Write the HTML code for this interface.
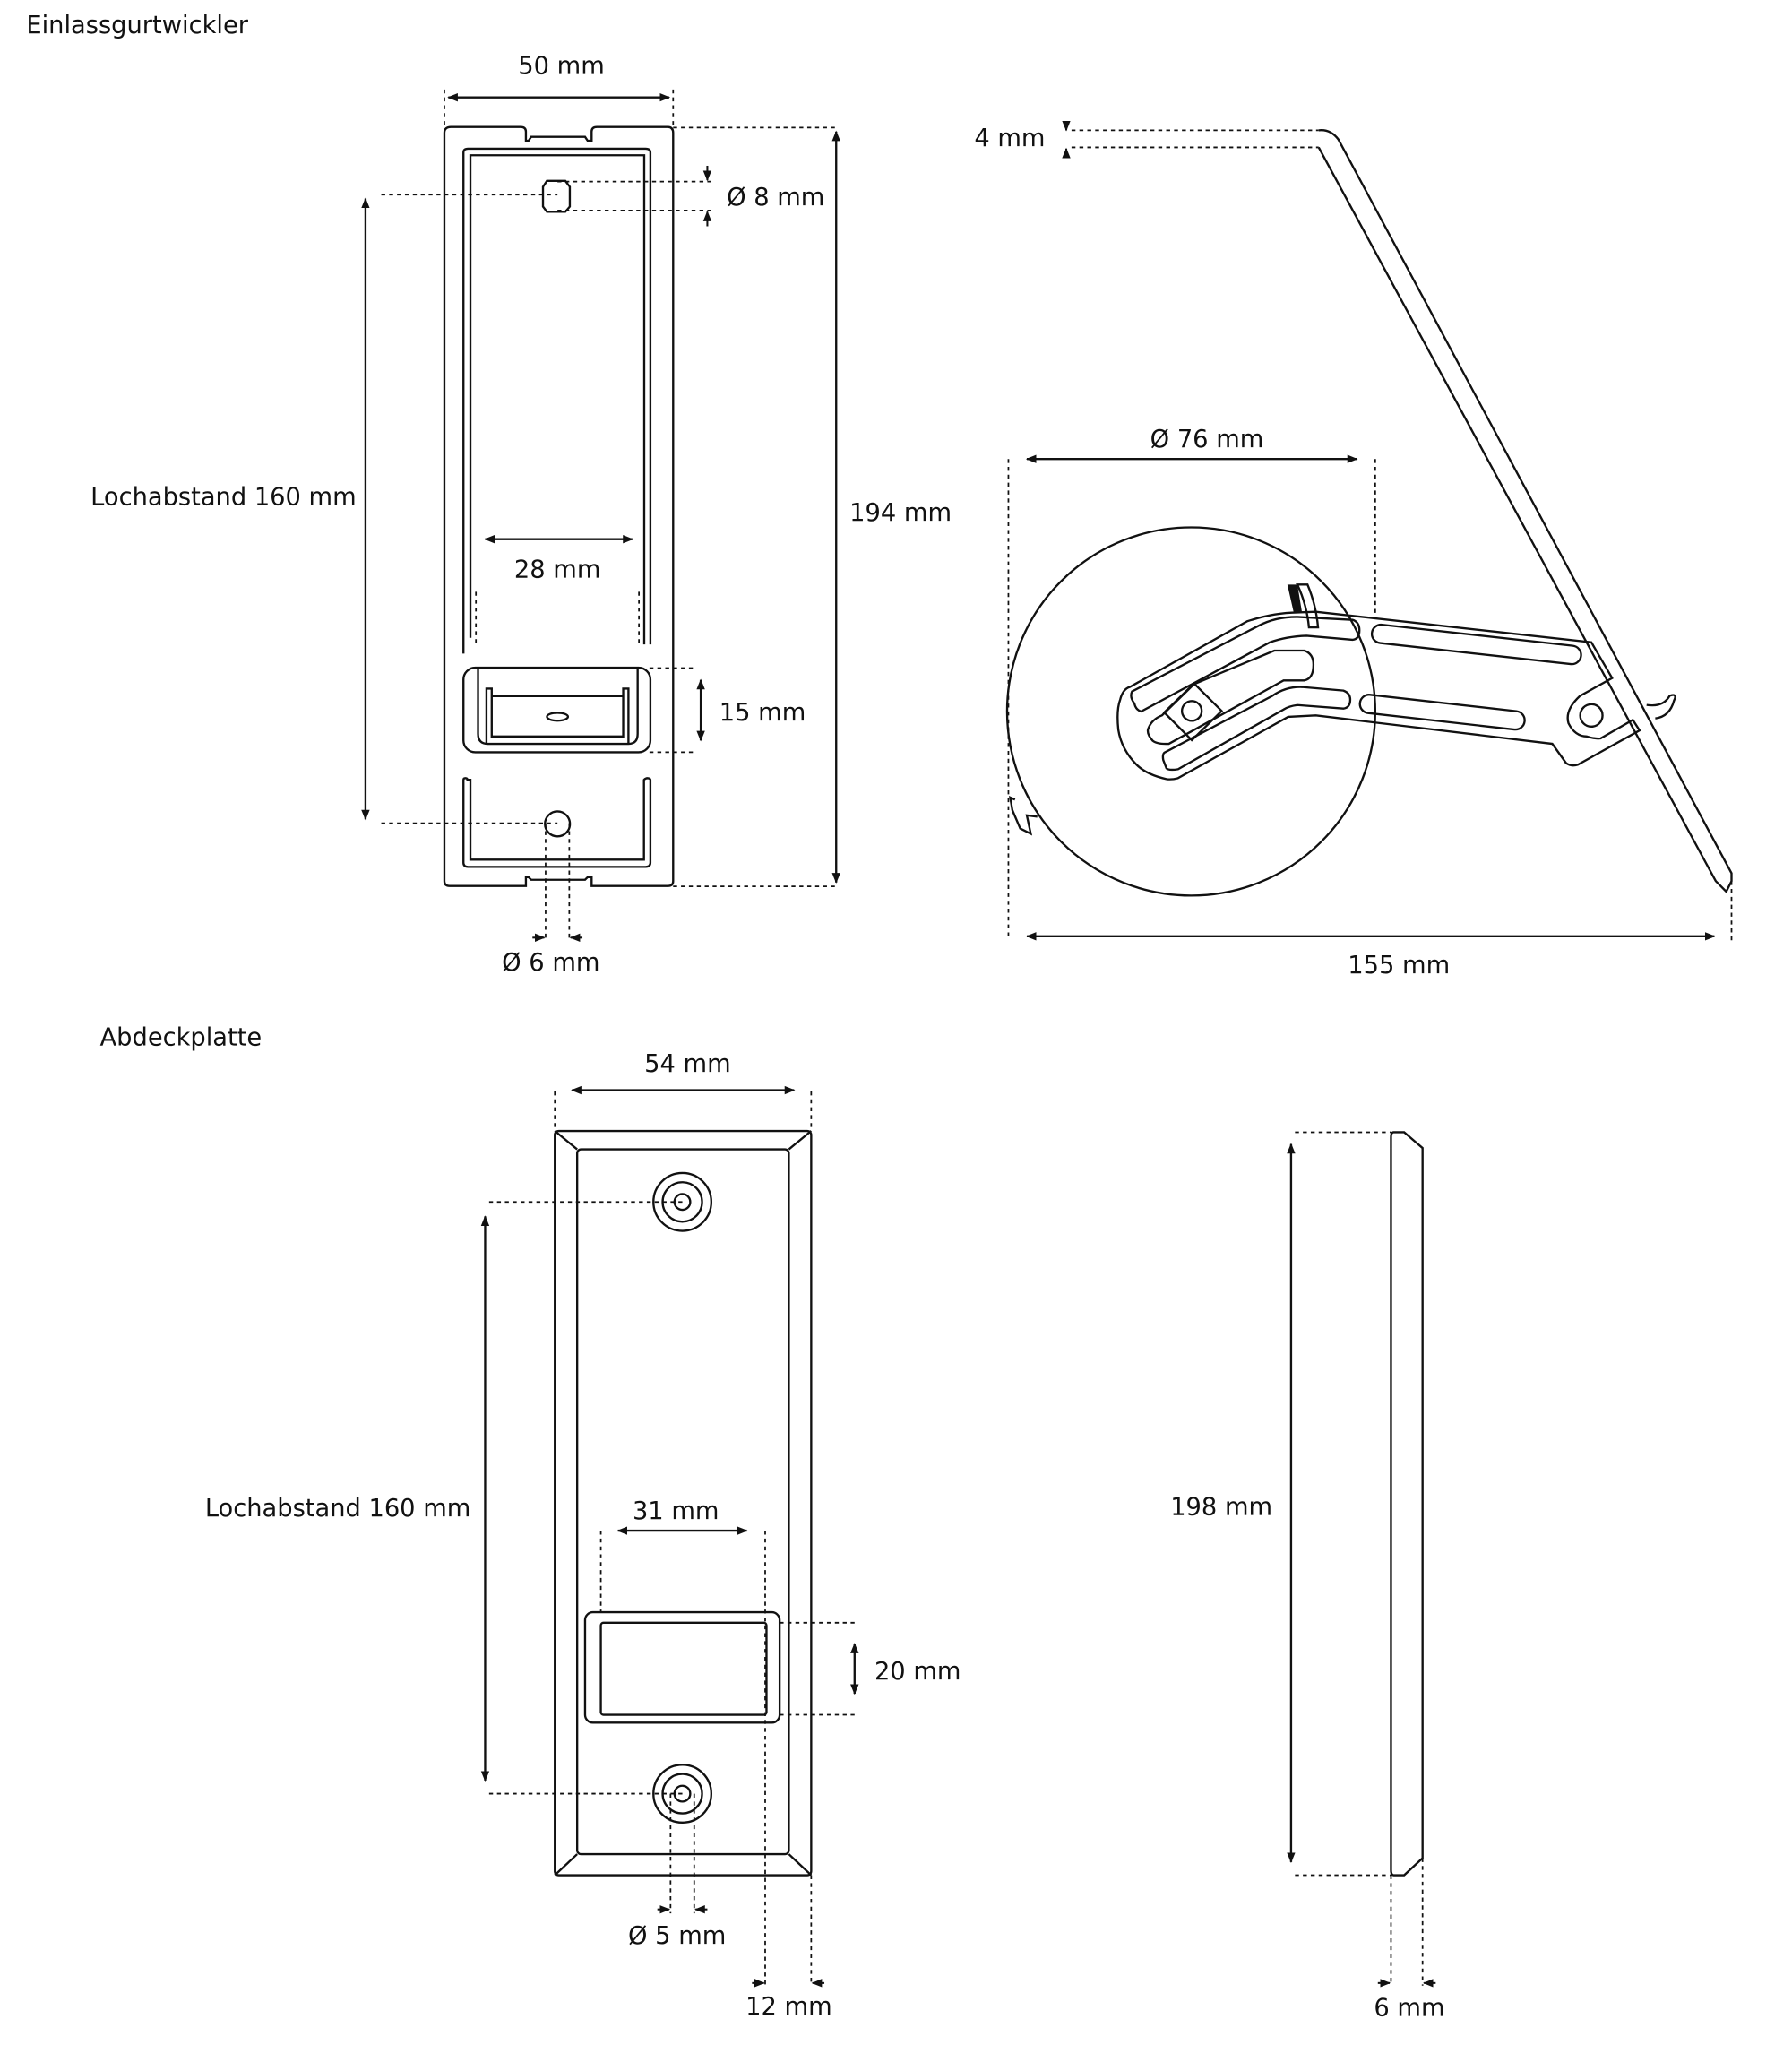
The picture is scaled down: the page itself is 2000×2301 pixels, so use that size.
<!DOCTYPE html>
<html><head><meta charset="utf-8"><style>
html,body{margin:0;padding:0;background:#fff;}
svg{display:block;}
text{font-family:"DejaVu Sans","Liberation Sans",sans-serif;font-size:18.6px;fill:#111;}
.l{fill:none;stroke:#111;stroke-width:1.6;}
.d{fill:none;stroke:#111;stroke-width:1.2;stroke-dasharray:3 3;}
.a{fill:none;stroke:#111;stroke-width:1.6;marker-start:url(#ar);marker-end:url(#ar);}
</style></head><body>
<svg width="2000" height="2301" viewBox="0 0 1363 1568" xmlns="http://www.w3.org/2000/svg">
<defs>
<marker id="ar" viewBox="0 0 10 10" refX="9" refY="5" markerWidth="8" markerHeight="8" orient="auto-start-reverse" markerUnits="userSpaceOnUse"><path d="M0,1 L10,5 L0,9 Z" fill="#111"/></marker>
<marker id="ah" viewBox="0 0 10 10" refX="9" refY="5" markerWidth="8" markerHeight="8" orient="auto" markerUnits="userSpaceOnUse"><path d="M0,1 L10,5 L0,9 Z" fill="#111"/></marker>
</defs>

<text x="20" y="25">Einlassgurtwickler</text>

<!-- Front view 1 -->
<path class="l" d="M343 96.5 L396 96.5 Q400 96.5 400 100 L400 107 L402 107 L404 104 L445 104 L447 107 L450 107 L450 100 Q450 96.5 454 96.5 L508 96.5 Q512 96.5 512 101 L512 670 Q512 673.7 508 673.7 L450 673.7 L450 667 L447 667 L445 669 L404 669 L402 667 L400 667 L400 673.7 L342 673.7 Q338 673.7 338 670 L338 101 Q338 96.5 343 96.5 Z"/>
<path class="l" d="M352.5 497 L352.5 116 Q352.5 113 356 113 L491 113 Q494.7 113 494.7 116 L494.7 490"/>
<path class="l" d="M357.8 485 L357.8 118 L490 118 L490 490"/>
<path class="l" d="M352.5 593 Q352.5 591.7 354 591.7 Q355.5 591.7 355.5 593 L357.8 593 L357.8 653.7 L489.8 653.7 L489.8 593 Q491 591.7 492.5 591.7 Q494.7 592 494.7 593 L494.7 656 Q494.7 659.2 491 659.2 L356 659.2 Q352.5 659.2 352.5 656 Z"/>
<path class="l" d="M416 137.5 L430 137.5 L433.4 142 L433.4 157 L430 161 L416 161 L413 157 L413 142 Z"/>
<circle class="l" cx="424" cy="626.5" r="9.5"/>
<rect class="l" x="352.5" y="507.7" width="142.2" height="64.3" rx="9"/>
<path class="l" d="M363.6 507.7 L363.6 558 Q363.6 565.6 371 565.6 L478 565.6 Q485 565.6 485 558 L485 507.7"/>
<path class="l" d="M370 565 L370 523.6 L374 523.6 L374 560 L474 560 L474 523.6 L478 523.6 L478 565"/>
<line class="l" x1="374" y1="529.3" x2="474" y2="529.3"/>
<ellipse class="l" cx="424" cy="545" rx="8" ry="3"/>

<text x="427" y="56" text-anchor="middle">50 mm</text>
<line class="a" x1="341" y1="74" x2="509" y2="74"/>
<line class="d" x1="338" y1="68" x2="338" y2="97"/><line class="d" x1="512" y1="68" x2="512" y2="97"/>
<line class="a" x1="636" y1="100" x2="636" y2="671"/>
<line class="d" x1="512" y1="97" x2="636" y2="97"/><line class="d" x1="512" y1="674" x2="636" y2="674"/>
<text x="685" y="396" text-anchor="middle">194 mm</text>
<line class="d" x1="424" y1="138" x2="542" y2="138"/><line class="d" x1="424" y1="160" x2="542" y2="160"/>
<line x1="538" y1="126" x2="538" y2="137" stroke="#111" stroke-width="1.4" marker-end="url(#ah)"/>
<line x1="538" y1="172" x2="538" y2="161" stroke="#111" stroke-width="1.4" marker-end="url(#ah)"/>
<text x="590" y="156" text-anchor="middle">Ø 8 mm</text>
<line class="a" x1="278" y1="151" x2="278" y2="623"/>
<line class="d" x1="290" y1="148" x2="424" y2="148"/><line class="d" x1="290" y1="626" x2="424" y2="626"/>
<text x="170" y="384" text-anchor="middle">Lochabstand 160 mm</text>
<line class="a" x1="369" y1="410" x2="481" y2="410"/>
<line class="d" x1="362" y1="450" x2="362" y2="490"/><line class="d" x1="486" y1="450" x2="486" y2="490"/>
<text x="424" y="439" text-anchor="middle">28 mm</text>
<line class="d" x1="494" y1="508" x2="528" y2="508"/><line class="d" x1="494" y1="572" x2="528" y2="572"/>
<line class="a" x1="533" y1="517" x2="533" y2="563"/>
<text x="580" y="548" text-anchor="middle">15 mm</text>
<line class="d" x1="415" y1="626" x2="415" y2="715"/><line class="d" x1="433" y1="626" x2="433" y2="715"/>
<line x1="405" y1="713" x2="414" y2="713" stroke="#111" stroke-width="1.4" marker-end="url(#ah)"/>
<line x1="443" y1="713" x2="434" y2="713" stroke="#111" stroke-width="1.4" marker-end="url(#ah)"/>
<text x="419" y="738" text-anchor="middle">Ø 6 mm</text>

<!-- Side view 1 -->
<line class="d" x1="815" y1="99" x2="1003" y2="99"/><line class="d" x1="815" y1="112" x2="1003" y2="112"/>
<line x1="811" y1="92" x2="811" y2="99" stroke="#111" stroke-width="1.4" marker-end="url(#ah)"/>
<line x1="811" y1="120" x2="811" y2="113" stroke="#111" stroke-width="1.4" marker-end="url(#ah)"/>
<text x="768" y="111" text-anchor="middle">4 mm</text>
<circle class="l" cx="906" cy="541" r="140" fill="#fff"/>
<path class="l" fill="#fff" d="M772 608 L768.4 606.4 L770 616 L776 630 L784 634 L781 620 L789 621"/>
<!-- arm -->
<path class="l" fill="#fff" d="M948.4 472.5 Q968 466 986.8 465.7 L1000.8 465.2 L1210.4 488.4 L1226.2 515.6 L1201.7 529.2 Q1190 540 1193 550 Q1198 560 1207 560 Q1213 562 1217.4 561.5 L1241.9 547.4 L1247.1 555.4 L1200 581.5 Q1195 583 1191.2 580.3 L1180.7 565.6 L1000.8 544 L979.8 545.1 L896 591.7 Q891 593 887.2 592.4 Q872 589 864.5 581.5 Q853 570 850.6 555 Q849 540 852 532 Q854 524 859.3 522.4 Z"/>
<path class="l" d="M862.8 534.9 Q859 530 861 525.8 L957.1 475.9 Q970 469 986.8 469.1 L1028.7 471.3 Q1034 473 1034 479.3 Q1034 486 1028.7 486.5 L993.8 483.4 Q978 484 965.9 488.4 L868 541 Q864 540 862.8 534.9 Z"/>
<path class="l" d="M908.2 520.2 L969.3 494.7 L992 494.7 Q999 497 999 505.4 Q999 516 992 517.4 L976.3 517.4 L889 565.6 Q880 566 876.8 563.3 Q872 558 873.3 554.2 Q876 547 883.8 544 Z"/>
<path class="l" d="M884.8 578 Q884 574 885.5 572.4 L967.6 529.2 Q978 522 990.3 522.4 L1021.8 525.1 Q1027 527 1027 532 Q1027 538 1021.8 538.8 L986.8 536.1 Q980 537 976.3 539.5 L896 584.9 Q889 586 887.2 584.2 Z"/>
<rect class="l" x="1043" y="483" width="160" height="14" rx="7" transform="rotate(6.3 1123 490)"/>
<rect class="l" x="1034" y="534.5" width="126" height="14" rx="7" transform="rotate(6.4 1097 541.5)"/>
<path class="l" fill="#fff" d="M908.2 519.7 L929.2 540.6 L906.5 562.8 L885.5 541.7 Z"/>
<circle class="l" cx="906.5" cy="540.6" r="7.5"/>
<circle class="l" cx="1210.4" cy="544" r="8.5"/>
<path d="M979.2 444.5 L986.8 444.5 L990.3 465.7 L984 465.7 Z" fill="#111"/>
<path class="l" fill="#fff" d="M986.8 444.5 L994.5 444.5 Q1001 460 1002.5 477 L995.6 477 Q994 460 986.8 444.5 Z"/>
<!-- plate -->
<path class="l" fill="none" d="M1003 112 L1305 670 L1313 678 L1317 670 L1317 664 L1018 106 Q1012 98 1003 99"/>
<path class="l" d="M1252.4 536 Q1265 538 1270 529 Q1276 527 1273.3 532.6 Q1270 545 1259 546.3"/>
<line class="a" x1="781" y1="349" x2="1032" y2="349"/>
<line class="d" x1="767" y1="349" x2="767" y2="715"/><line class="d" x1="1046" y1="349" x2="1046" y2="470"/>
<text x="918" y="340" text-anchor="middle">Ø 76 mm</text>
<line class="a" x1="781" y1="712" x2="1304" y2="712"/>
<line class="d" x1="1317" y1="670" x2="1317" y2="715"/>
<text x="1064" y="740" text-anchor="middle">155 mm</text>

<!-- Abdeckplatte -->
<text x="76" y="795">Abdeckplatte</text>
<rect class="l" x="422" y="860" width="195" height="566" rx="3"/>
<rect class="l" x="439" y="874" width="161" height="536" rx="3"/>
<line class="l" x1="422" y1="860" x2="439" y2="874"/><line class="l" x1="617" y1="860" x2="600" y2="874"/>
<line class="l" x1="422" y1="1426" x2="439" y2="1410"/><line class="l" x1="617" y1="1426" x2="600" y2="1410"/>
<circle class="l" cx="519" cy="914" r="22"/><circle class="l" cx="519" cy="914" r="15"/><circle class="l" cx="519" cy="914" r="6"/>
<circle class="l" cx="519" cy="1364" r="22"/><circle class="l" cx="519" cy="1364" r="15"/><circle class="l" cx="519" cy="1364" r="6"/>
<rect class="l" x="445" y="1226" width="148" height="84" rx="6"/>
<rect class="l" x="457" y="1234" width="126" height="70" rx="2"/>
<line class="a" x1="435" y1="829" x2="604" y2="829"/>
<line class="d" x1="422" y1="830" x2="422" y2="860"/><line class="d" x1="617" y1="830" x2="617" y2="860"/>
<text x="523" y="815" text-anchor="middle">54 mm</text>
<line class="a" x1="369" y1="925" x2="369" y2="1354"/>
<line class="d" x1="372" y1="914" x2="519" y2="914"/><line class="d" x1="372" y1="1364" x2="519" y2="1364"/>
<text x="257" y="1153" text-anchor="middle">Lochabstand 160 mm</text>
<line class="a" x1="470" y1="1164" x2="568" y2="1164"/>
<line class="d" x1="457" y1="1164" x2="457" y2="1226"/><line class="d" x1="582" y1="1164" x2="582" y2="1510"/>
<text x="514" y="1155" text-anchor="middle">31 mm</text>
<line class="d" x1="593" y1="1234" x2="652" y2="1234"/><line class="d" x1="593" y1="1304" x2="652" y2="1304"/>
<line class="a" x1="650" y1="1250" x2="650" y2="1288"/>
<text x="698" y="1277" text-anchor="middle">20 mm</text>
<line class="d" x1="510" y1="1364" x2="510" y2="1455"/><line class="d" x1="528" y1="1364" x2="528" y2="1455"/>
<line x1="500" y1="1452" x2="509" y2="1452" stroke="#111" stroke-width="1.4" marker-end="url(#ah)"/>
<line x1="538" y1="1452" x2="529" y2="1452" stroke="#111" stroke-width="1.4" marker-end="url(#ah)"/>
<text x="515" y="1478" text-anchor="middle">Ø 5 mm</text>
<line class="d" x1="617" y1="1426" x2="617" y2="1510"/>
<line x1="572" y1="1508" x2="581" y2="1508" stroke="#111" stroke-width="1.4" marker-end="url(#ah)"/>
<line x1="627" y1="1508" x2="618" y2="1508" stroke="#111" stroke-width="1.4" marker-end="url(#ah)"/>
<text x="600" y="1532" text-anchor="middle">12 mm</text>

<!-- Side plate -->
<path class="l" d="M1060 861 L1068 861 L1082 873 L1082 1413 L1068 1426 L1060 1426 Q1058 1426 1058 1422 L1058 865 Q1058 861 1060 861 Z"/>
<line class="a" x1="982" y1="870" x2="982" y2="1416"/>
<line class="d" x1="985" y1="861" x2="1058" y2="861"/><line class="d" x1="985" y1="1426" x2="1058" y2="1426"/>
<text x="929" y="1152" text-anchor="middle">198 mm</text>
<line class="d" x1="1058" y1="1426" x2="1058" y2="1510"/><line class="d" x1="1082" y1="1413" x2="1082" y2="1510"/>
<line x1="1048" y1="1508" x2="1057" y2="1508" stroke="#111" stroke-width="1.4" marker-end="url(#ah)"/>
<line x1="1092" y1="1508" x2="1083" y2="1508" stroke="#111" stroke-width="1.4" marker-end="url(#ah)"/>
<text x="1072" y="1533" text-anchor="middle">6 mm</text>
</svg>
</body></html>
